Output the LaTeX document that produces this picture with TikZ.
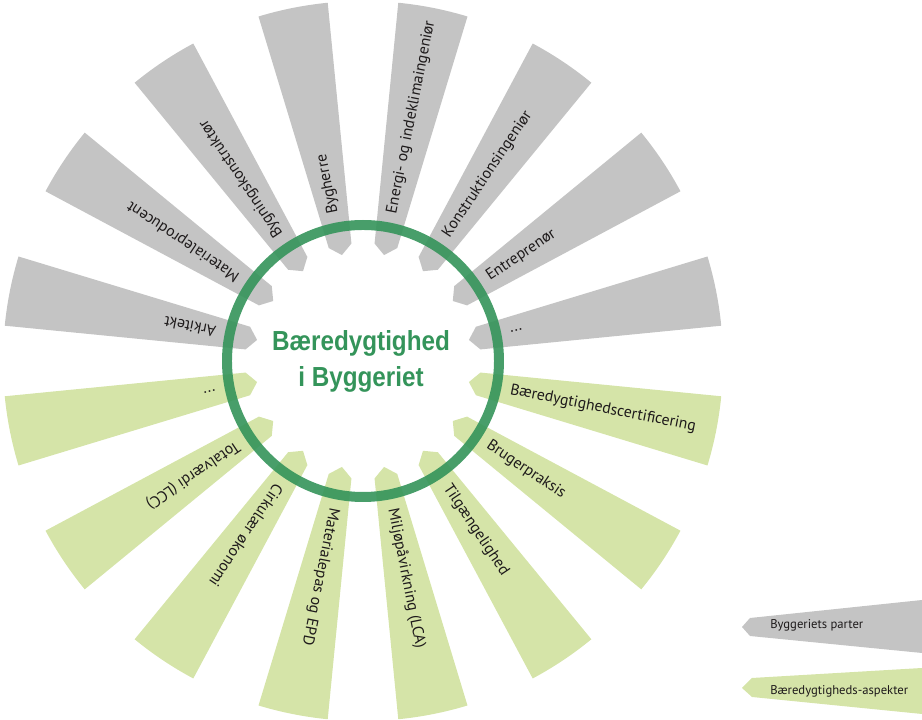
\documentclass[tikz,border=0pt]{standalone}
\usepackage{fontspec}
\setmainfont{PT Sans}
\newfontfamily\titelfont[FakeStretch=0.88]{Liberation Sans}

\definecolor{partgray}{RGB}{196,196,196}
\definecolor{aspectgreen}{RGB}{213,228,168}
\definecolor{ringgreen}{RGB}{52,148,90}
\definecolor{labeltext}{RGB}{30,26,27}

\begin{document}
\begin{tikzpicture}[x=0.025cm, y=0.025cm,
	partpetal/.style={fill=partgray},
	aspectpetal/.style={fill=aspectgreen},
	labelnode/.style={anchor=west, inner sep=0pt, text=labeltext, font=\fontsize{11.2}{13}\selectfont},
	legendnode/.style={anchor=west, inner sep=0pt, text=labeltext, font=\fontsize{9}{11}\selectfont},
	titlenode/.style={align=center, text=ringgreen, font=\titelfont\bfseries\fontsize{19.6}{25.6}\selectfont},
	ring/.style={draw=ringgreen, draw opacity=0.9, line width=7.1pt}
]
\useasboundingbox (-363,-359) rectangle (559,361);

% Byggeriets parter
\fill[partpetal] (168.75:108) -- (174.375:118) -- (174.375:360) arc[start angle=174.375, end angle=163.125, radius=360] -- (163.125:118) -- cycle;
\fill[partpetal] (146.25:108) -- (151.875:118) -- (151.875:360) arc[start angle=151.875, end angle=140.625, radius=360] -- (140.625:118) -- cycle;
\fill[partpetal] (123.75:108) -- (129.375:118) -- (129.375:360) arc[start angle=129.375, end angle=118.125, radius=360] -- (118.125:118) -- cycle;
\fill[partpetal] (101.25:108) -- (106.875:118) -- (106.875:360) arc[start angle=106.875, end angle=95.625, radius=360] -- (95.625:118) -- cycle;
\fill[partpetal] (78.75:108) -- (84.375:118) -- (84.375:360) arc[start angle=84.375, end angle=73.125, radius=360] -- (73.125:118) -- cycle;
\fill[partpetal] (56.25:108) -- (61.875:118) -- (61.875:360) arc[start angle=61.875, end angle=50.625, radius=360] -- (50.625:118) -- cycle;
\fill[partpetal] (33.75:108) -- (39.375:118) -- (39.375:360) arc[start angle=39.375, end angle=28.125, radius=360] -- (28.125:118) -- cycle;
\fill[partpetal] (11.25:108) -- (16.875:118) -- (16.875:360) arc[start angle=16.875, end angle=5.625, radius=360] -- (5.625:118) -- cycle;

% Aspekter
\fill[aspectpetal] (-11.25:108) -- (-5.625:118) -- (-5.625:360) arc[start angle=-5.625, end angle=-16.875, radius=360] -- (-16.875:118) -- cycle;
\fill[aspectpetal] (-33.75:108) -- (-28.125:118) -- (-28.125:360) arc[start angle=-28.125, end angle=-39.375, radius=360] -- (-39.375:118) -- cycle;
\fill[aspectpetal] (-56.25:108) -- (-50.625:118) -- (-50.625:360) arc[start angle=-50.625, end angle=-61.875, radius=360] -- (-61.875:118) -- cycle;
\fill[aspectpetal] (-78.75:108) -- (-73.125:118) -- (-73.125:360) arc[start angle=-73.125, end angle=-84.375, radius=360] -- (-84.375:118) -- cycle;
\fill[aspectpetal] (-101.25:108) -- (-95.625:118) -- (-95.625:360) arc[start angle=-95.625, end angle=-106.875, radius=360] -- (-106.875:118) -- cycle;
\fill[aspectpetal] (-123.75:108) -- (-118.125:118) -- (-118.125:360) arc[start angle=-118.125, end angle=-129.375, radius=360] -- (-129.375:118) -- cycle;
\fill[aspectpetal] (-146.25:108) -- (-140.625:118) -- (-140.625:360) arc[start angle=-140.625, end angle=-151.875, radius=360] -- (-151.875:118) -- cycle;
\fill[aspectpetal] (-168.75:108) -- (-163.125:118) -- (-163.125:360) arc[start angle=-163.125, end angle=-174.375, radius=360] -- (-174.375:118) -- cycle;

% Tekster
\node[labelnode, rotate=168.75] (1) at (168.75:150) {Arkitekt};
\node[labelnode, rotate=146.25] (2) at (146.25:150) {Materialeproducent};
\node[labelnode, rotate=123.75] (3) at (123.75:150) {Bygningskonstruktør};
\node[labelnode, rotate=101.25] (4) at (101.25:150) {Bygherre};
\node[labelnode, rotate=78.75] (5) at (78.75:150) {Energi- og indeklimaingeniør};
\node[labelnode, rotate=56.25] (6) at (56.25:150) {Konstruktionsingeniør};
\node[labelnode, rotate=33.75] (7) at (33.75:150) {Entreprenør};
\node[labelnode, rotate=11.25] (8) at (11.25:150) {...};
\node[labelnode, rotate=-11.25] (9) at (-11.25:150) {Bæredygtighedscertificering};
\node[labelnode, rotate=-33.75] (10) at (-33.75:150) {Brugerpraksis};
\node[labelnode, rotate=-56.25] (11) at (-56.25:150) {Tilgængelighed};
\node[labelnode, rotate=-78.75] (12) at (-78.75:150) {Miljøpåvirkning (LCA)};
\node[labelnode, rotate=-101.25] (13) at (-101.25:150) {Materialepas og EPD};
\node[labelnode, rotate=-123.75] (14) at (-123.75:150) {Cirkulær økonomi};
\node[labelnode, rotate=-146.25] (15) at (-146.25:150) {Totalværdi (LCC)};
\node[labelnode, rotate=-168.75] (16) at (-168.75:150) {...};

% Ring og titel
\draw[ring] (0,0) circle[radius=136];
\node[titlenode] (0) at (-2,0) {Bæredygtighed\\i Byggeriet};

% Forklaring
\fill[partpetal] (379,-266) -- (387,-257) -- (559,-239) -- (559,-292) -- (387,-275) -- cycle;
\fill[aspectpetal] (379,-327) -- (389,-317) -- (559,-307) -- (559,-353) -- (389,-336) -- cycle;
\node[legendnode] (l1) at (407,-264) {Byggeriets parter};
\node[legendnode] (l2) at (407,-330) {Bæredygtigheds-aspekter};

\end{tikzpicture}
\end{document}
